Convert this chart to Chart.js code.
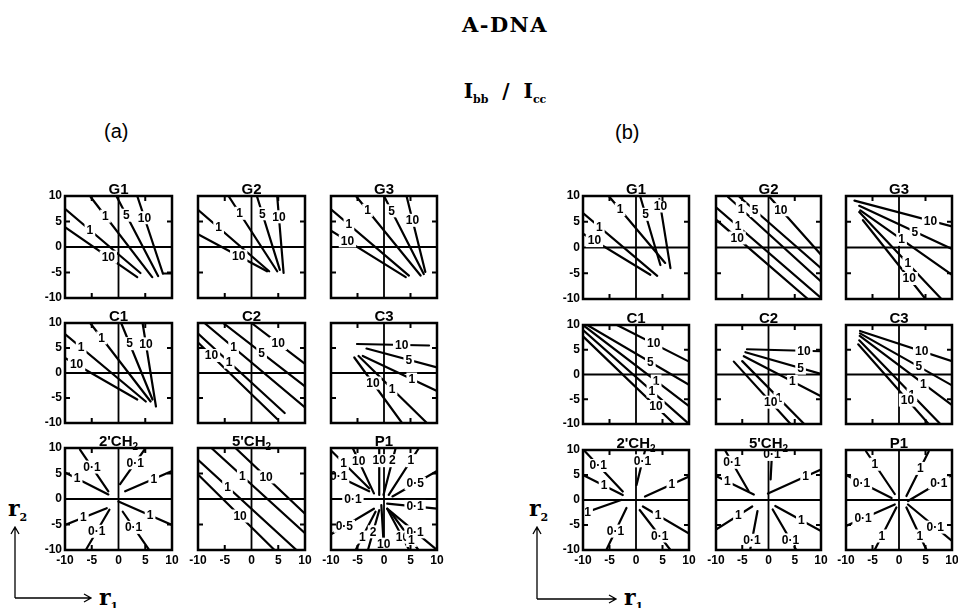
<!DOCTYPE html>
<html><head><meta charset="utf-8">
<script src="https://cdn.jsdelivr.net/npm/chart.js@4/dist/chart.umd.min.js"></script>
<style>
body{margin:0;background:#fff;}
#wrap{position:relative;width:958px;height:608px;overflow:hidden;background:#fff;}
#wrap canvas{position:absolute;}
.t{position:absolute;white-space:nowrap;color:#000;line-height:1;}
.serif{font-family:'DejaVu Serif','Liberation Serif',serif;}
.sans{font-family:'Liberation Sans','DejaVu Sans',sans-serif;}
</style></head><body><div id="wrap">
<div class="t serif" style="left:405px;width:200px;text-align:center;top:14px;font-size:21px;letter-spacing:1.5px;font-weight:600;">A-DNA</div>
<div class="t serif" style="left:405px;width:200px;text-align:center;top:81px;font-size:20px;font-weight:600;">I<span style="font-size:11px;position:relative;top:5px;font-weight:bold;">bb</span>&nbsp;&nbsp;/&nbsp;&nbsp;I<span style="font-size:11px;position:relative;top:5px;font-weight:bold;">cc</span></div>
<div class="t sans" style="left:104px;top:121px;font-size:20px;">(a)</div>
<div class="t sans" style="left:615px;top:122px;font-size:20px;">(b)</div>
<div class="t serif" style="left:8px;top:497px;font-size:22px;font-weight:bold;">r<span style="font-size:11px;position:relative;top:5px;">2</span></div>
<div class="t serif" style="left:99px;top:586px;font-size:22px;font-weight:bold;">r<span style="font-size:11px;position:relative;top:5px;">1</span></div>
<div class="t serif" style="left:529px;top:497px;font-size:22px;font-weight:bold;">r<span style="font-size:11px;position:relative;top:5px;">2</span></div>
<div class="t serif" style="left:624px;top:586px;font-size:22px;font-weight:bold;">r<span style="font-size:11px;position:relative;top:5px;">1</span></div>
<svg width="958" height="608" style="position:absolute;left:0;top:0;pointer-events:none">
 <g stroke="#000" stroke-width="1.3" fill="none">
  <path d="M15 598 V528 M11 534 L15 527 L19 534 M15 598 H90 M84 594 L91 598 L84 602"/>
  <path d="M537 599 V528 M533 534 L537 527 L541 534 M537 599 H615 M609 595 L616 599 L609 603"/>
 </g>
</svg>
</div>
<script>
// Each contour line: [x1, y1, x2, y2, label, label position along the line (0..1)]
const aG1 = [[-10,3.9,3.5,-5.9,'10',0.6],[-10,7.5,4.1,-5.1,'1',0.33],[-5.2,9.8,6.3,-5.9,'1',0.24],[-0.4,10,7.4,-5.7,'5',0.24],[3.5,10,8.3,-5.2,'10',0.28],[8.3,-5.2,10,-5.2,'',0]];
const aG2 = [[-10,2.5,2.9,-4.75,'10',0.59],[-10,7.3,3.3,-4.75,'1',0.29],[-4.3,10,4.8,-4.75,'1',0.23],[1.0,10,5.3,-4.5,'5',0.24],[4.8,10,6.0,-5.1,'10',0.27]];
const aG3 = [[-10,3.2,4.1,-5.9,'10',0.22],[-10,7.4,4.7,-5.6,'1',0.23],[-5.3,10,6.9,-5.6,'1',0.18],[0,10,7.5,-5.3,'5',0.19],[4.25,10,7.8,-4.9,'10',0.32]];
const aC1 = [[-10,3.0,3.5,-5.3,'10',0.16],[-10,7.8,5.1,-5.7,'1',0.2],[-5.3,10,6.0,-5.7,'1',0.19],[0.5,10,6.35,-5.3,'5',0.27],[4.5,10,7.0,-6.7,'10',0.25]];
const aC2 = [[0,10,10,1.8,'10',0.5],[-5.3,10,10,-2.7,'5',0.47],[-8.8,10,10,-6.9,'1',0.29],[-10,7.9,6.2,-8,'1',0.36],[-10,6.1,4.8,-9.2,'10',0.17]];
const aC3 = [[-5.1,5.8,8.5,5.5,'10',0.62],[-3.3,4.9,10,1.1,'5',0.6],[-4.0,3.4,10,-3.6,'1',0.66],[-5.6,3.1,3.4,-10,'10',0.39],[-4.8,3.4,8.1,-10,'1',0.49]];
const a2CH = [[-7.2,9.7,-1.9,1.5,'0·1',0.42],[-10,5.2,-1.9,0.9,'1',0.28],[5.0,9.9,0.3,2.9,'0·1',0.4],[10,5.5,1.25,1.5,'1',0.39],[-10,-5.1,-2.2,-1.8,'1',0.44],[-6,-9.8,-1.7,-2.1,'0·1',0.45],[5.6,-9.8,0.8,-2.5,'0·1',0.58],[0,-0.5,10,-5.1,'1',0.59]];
const a5CH = [[-3.0,10,10,-2.9,'10',0.44],[-7.5,10,10,-6.7,'1',0.33],[-10,7.7,8.4,-10,'1',0.3],[-10,4.8,4.3,-10,'10',0.55]];
const aP1 = [[-10,9.5,-2.8,2.1,'1',0.33],[-10,5.1,-2.8,1.5,'0·1',0.2],[-5.9,10,-1.9,1.1,'10',0.28],[-0.9,10,-0.9,0.8,'10',0.27],[2.2,10,-0.1,0.8,'2',0.27],[6.6,10,0.9,0.8,'1',0.27],[10,5.5,1.6,0.5,'0·5',0.49],[-10,0,-1.2,0,'0·1',0.47],[0.6,-0.9,10,-1.9,'0·1',0.56],[-10,-6.9,-1.9,-1.9,'0·5',0.31],[-5.3,-9.9,-1.6,-2.5,'1',0.33],[-3,-9.9,-0.9,-2.2,'2',0.45],[0,-10,-0.5,-1.2,'10',0.13],[4.7,-9.9,0.6,-1.9,'10',0.3],[10,-10,0.6,-1.9,'0·1',0.44],[6.5,-10,1.2,-2.5,'1',0.25]];
const bG1 = [[-10,2.7,2.7,-5.3,'10',0.17],[-10,6.7,4.0,-5.5,'1',0.22],[-5,9.8,5.5,-3.0,'1',0.19],[0.8,9.9,4.6,-3.4,'5',0.26],[4.4,9.4,6.5,-4.0,'10',0.1]];
const bG2 = [[0.2,9.8,10,-1.4,'10',0.22],[-5.5,9.8,10,-4.0,'5',0.19],[-7.7,9.8,10,-6.6,'1',0.14],[-10,7.8,10,-9.8,'1',0.21],[-10,5.4,7.5,-10,'10',0.23]];
const bG3 = [[-8.4,9.1,10,4.1,'10',0.78],[-7.5,8.1,10,-0.3,'5',0.6],[-7.3,7.2,10,-5.3,'1',0.45],[-7.5,6.9,8.0,-10,'1',0.59],[-6.8,5.3,5.0,-10,'10',0.74]];
const bC1 = [[-3.6,10,10,2.6,'10',0.51],[-9.2,10,10,-2.1,'5',0.62],[-10,10,10,-6.4,'1',0.69],[-10,9,10,-10,'1',0.65],[-10,7.7,7.2,-10,'10',0.8]];
const bC2 = [[-4.1,5.1,10,4.7,'10',0.77],[-4.4,4.5,10,0.1,'5',0.73],[-4.7,3.7,10,-4.4,'1',0.63],[-5,2.7,6.8,-10,'1',0.59],[-6.6,2.6,4.2,-10,'10',0.65]];
const bC3 = [[-7.35,8.8,10,2.7,'10',0.67],[-7.35,8.3,10,-2.2,'5',0.64],[-7.4,7.8,10,-6.2,'1',0.69],[-7.5,6.9,7.8,-10,'1',0.65],[-7.7,6.1,5.6,-10,'10',0.7]];
const b2CH = [[-9.6,9.7,-2.5,1.7,'0·1',0.35],[-10,5,-2.5,1,'1',0.53],[1.7,9.9,0.1,3,'0·1',0.3],[10,4.7,1.7,0.7,'1',0.39],[-10,-2.7,-2.8,0,'1',0.12],[-5.6,-10,-1.8,-1.6,'0·1',0.45],[1.3,-1.3,10,-6.7,'1',0.33],[0.7,-2,6.5,-10,'0·1',0.65]];
const b5CH = [[-8.3,10,-3.8,1.8,'0·1',0.3],[-10,4.8,-2.8,1.1,'1',0.3],[0.7,10,0.4,4.1,'0·1',0.15],[10,6.1,-0.1,1.3,'1',0.29],[-10,-5.9,-3.1,-1.3,'1',0.62],[-3.5,-10,-2.1,-2.2,'0·1',0.25],[1.3,-1.2,10,-6.2,'1',0.57],[0.8,-1.9,5.3,-10,'0·1',0.75]];
const bP1 = [[-6.2,9.7,-0.8,1.2,'1',0.3],[-10,5,-1.4,0.4,'0·1',0.34],[5.6,9.7,1.4,0.8,'1',0.38],[10,5,1.7,-0.2,'0·1',0.3],[-10,-5.2,-0.8,-0.9,'0·1',0.35],[-4.6,-10,-0.5,-1.5,'1',0.33],[5.2,-10,1.4,-1.5,'1',0.33],[10,-8.2,1.7,-0.9,'0·1',0.38]];

const panelTitles = [['G1',''],['G2',''],['G3',''],['C1',''],['C2',''],['C3',''],["2'CH",'2'],["5'CH",'2'],['P1','']];
const axisTicks = [-10,-5,0,5,10];

const setA = [aG1,aG2,aG3,aC1,aC2,aC3,a2CH,a5CH,aP1];
const setB = [bG1,bG2,bG3,bC1,bC2,bC3,b2CH,b5CH,bP1];

// layout (pixel frames of panels)
const frameA = {cols:[[65,172],[198,305],[331,437]], rows:[[196,298],[323,423],[448,550]]};
const frameB = {cols:[[583,689],[716,821],[846,952]], rows:[[196,299],[325,424],[450,550]]};

const SANS = "'Liberation Sans', 'DejaVu Sans', sans-serif";
const wrap = document.getElementById('wrap');

function panelPlugin(lines, title){
  return {
    id:'panelDeco',
    beforeDatasetsDraw(chart){
      const {ctx, chartArea:a, scales:{x, y}} = chart;
      ctx.save();
      ctx.strokeStyle='#000'; ctx.lineWidth=1.8;
      const x0 = x.getPixelForValue(0), y0 = y.getPixelForValue(0);
      ctx.beginPath();
      ctx.moveTo(x0, a.top); ctx.lineTo(x0, a.bottom);
      ctx.moveTo(a.left, y0); ctx.lineTo(a.right, y0);
      ctx.stroke();
      ctx.restore();
    },
    afterDatasetsDraw(chart){
      const {ctx, chartArea:a, scales:{x, y}} = chart;
      ctx.save();
      // contour labels
      ctx.font = 'bold 12px ' + SANS;
      ctx.textAlign='center'; ctx.textBaseline='middle';
      lines.forEach(s => {
        if(!s[4]) return;
        const vx = s[0] + s[5]*(s[2]-s[0]);
        const vy = s[1] + s[5]*(s[3]-s[1]);
        const px = x.getPixelForValue(vx), py = y.getPixelForValue(vy);
        const w = ctx.measureText(s[4]).width;
        ctx.fillStyle='#fff';
        ctx.fillRect(px - w/2 - 2, py - 6.5, w + 4, 13);
        ctx.fillStyle='#000';
        ctx.fillText(s[4], px, py + 0.5);
      });
      // frame
      ctx.strokeStyle='#000'; ctx.lineWidth=2.5;
      ctx.strokeRect(a.left, a.top, a.right-a.left, a.bottom-a.top);
      // inward ticks at +-5
      ctx.lineWidth=2;
      ctx.beginPath();
      [-5,5].forEach(v => {
        const px = x.getPixelForValue(v), py = y.getPixelForValue(v);
        ctx.moveTo(px, a.top); ctx.lineTo(px, a.top+5);
        ctx.moveTo(px, a.bottom); ctx.lineTo(px, a.bottom-5);
        ctx.moveTo(a.left, py); ctx.lineTo(a.left+5, py);
        ctx.moveTo(a.right, py); ctx.lineTo(a.right-5, py);
      });
      ctx.stroke();
      // title
      const mainF = 'bold 15px ' + SANS, subF = 'bold 10px ' + SANS;
      ctx.font = mainF; const w1 = ctx.measureText(title[0]).width;
      ctx.font = subF; const w2 = title[1] ? ctx.measureText(title[1]).width : 0;
      const cx = (a.left + a.right)/2, start = cx - (w1+w2)/2;
      ctx.textAlign='left'; ctx.textBaseline='alphabetic'; ctx.fillStyle='#000';
      ctx.font = mainF; ctx.fillText(title[0], start, a.top - 2);
      if(title[1]){ ctx.font = subF; ctx.fillText(title[1], start + w1, a.top + 2); }
      ctx.restore();
    }
  };
}

function makePanel(lines, title, L, R, T, B, showX, showY){
  const padL=38, padT=24, padR=14, padB=20;
  const cv = document.createElement('canvas');
  const w = R-L+padL+padR, h = B-T+padT+padB;
  cv.width=w; cv.height=h;
  cv.style.left=(L-padL)+'px'; cv.style.top=(T-padT)+'px';
  cv.style.width=w+'px'; cv.style.height=h+'px';
  wrap.appendChild(cv);
  const datasets = lines.map(s => ({
    data:[{x:s[0],y:s[1]},{x:s[2],y:s[3]}],
    showLine:true, borderColor:'#000', borderWidth:2.2, pointRadius:0, borderCapStyle:'round', fill:false
  }));
  const tickFont = {family:SANS, size:12, weight:'bold'};
  new Chart(cv, {
    type:'scatter',
    data:{datasets},
    options:{
      responsive:false, animation:false, devicePixelRatio:1, events:[],
      layout:{padding:{top:padT, right:padR, left:0, bottom:0}},
      plugins:{legend:{display:false}, tooltip:{enabled:false}},
      scales:{
        x:{type:'linear', min:-10, max:10,
           grid:{display:false, drawTicks:false}, border:{display:false},
           afterBuildTicks:s=>{ s.ticks = axisTicks.map(v=>({value:v})); },
           ticks:{display:showX, autoSkip:false, maxRotation:0, padding:3, color:'#000', font:tickFont, callback:v=>String(v)},
           afterFit:s=>{ s.height=padB; s.paddingLeft=0; s.paddingRight=0; }},
        y:{type:'linear', min:-10, max:10,
           grid:{display:false, drawTicks:false}, border:{display:false},
           afterBuildTicks:s=>{ s.ticks = axisTicks.map(v=>({value:v})); },
           ticks:{display:showY, padding:3, color:'#000', font:tickFont, callback:v=>String(v)},
           afterFit:s=>{ s.width=padL; s.paddingTop=0; s.paddingBottom=0; }}
      }
    },
    plugins:[panelPlugin(lines, title)]
  });
}

function makeSet(set, frame){
  for(let r=0;r<3;r++) for(let c=0;c<3;c++){
    const i=r*3+c;
    makePanel(set[i], panelTitles[i], frame.cols[c][0], frame.cols[c][1], frame.rows[r][0], frame.rows[r][1], r===2, c===0);
  }
}
makeSet(setA, frameA);
makeSet(setB, frameB);
</script>
</body></html>
